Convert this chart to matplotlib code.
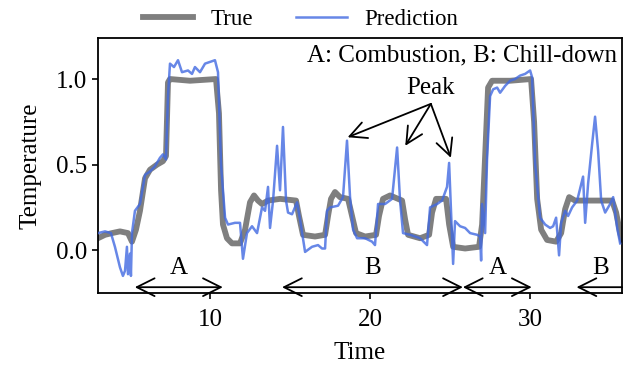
import matplotlib
matplotlib.use("Agg")
import matplotlib.pyplot as plt

plt.rcParams["font.family"] = ["Liberation Serif", "DejaVu Serif"]
plt.rcParams["font.size"] = 18

# Measured temperature (normalised)
true_t = [3.0, 3.44, 3.875, 4.375, 4.875, 5.125, 5.375, 5.625, 5.94, 6.25, 6.69, 7.06,
          7.25, 7.375, 7.5, 8.75, 10.375, 10.56, 10.69, 10.81, 11.06, 11.375, 11.875,
          12.19, 12.5, 12.75, 13.0, 13.25, 13.625, 14.375, 15.375, 15.56, 15.81, 16.56,
          17.19, 17.375, 17.56, 17.81, 18.125, 18.625, 18.875, 19.125, 19.69, 20.375,
          20.56, 20.81, 21.25, 22.0, 22.19, 22.375, 23.125, 23.69, 23.875, 24.125, 24.75,
          24.94, 25.19, 25.94, 26.81, 27.0, 27.19, 27.375, 27.625, 28.75, 30.06, 30.25,
          30.44, 30.69, 31.06, 31.625, 31.94, 32.19, 32.44, 32.81, 33.75, 35.125, 35.375,
          35.625, 35.75]
true_v = [0.07, 0.09, 0.10, 0.11, 0.10, 0.05, 0.12, 0.23, 0.42, 0.47, 0.50, 0.52,
          0.55, 0.98, 1.00, 0.99, 1.00, 0.80, 0.35, 0.15, 0.07, 0.04, 0.04,
          0.12, 0.28, 0.32, 0.29, 0.27, 0.29, 0.30, 0.29, 0.20, 0.09, 0.08,
          0.09, 0.20, 0.30, 0.34, 0.31, 0.30, 0.20, 0.10, 0.08, 0.09,
          0.20, 0.30, 0.32, 0.29, 0.18, 0.09, 0.07, 0.09, 0.22, 0.30, 0.30,
          0.15, 0.02, 0.01, 0.02, 0.15, 0.55, 0.95, 0.99, 0.99, 1.00, 0.75,
          0.30, 0.12, 0.06, 0.05, 0.10, 0.24, 0.31, 0.29, 0.29, 0.29, 0.22,
          0.10, 0.06]

# Model prediction
pred_t = [3.0, 3.44, 3.81, 4.06, 4.375, 4.56, 4.69, 4.81, 4.875, 5.0, 5.06, 5.125,
          5.31, 5.625, 5.94, 6.25, 6.56, 6.875, 7.06, 7.25, 7.375, 7.5, 7.75, 8.0,
          8.25, 8.625, 8.875, 9.06, 9.375, 9.69, 10.0, 10.31, 10.5, 10.69, 10.94,
          11.125, 11.56, 11.875, 12.06, 12.31, 12.625, 12.94, 13.25, 13.44, 13.625,
          13.75, 13.94, 14.19, 14.375, 14.56, 14.75, 14.875, 15.125, 15.44, 15.625,
          15.94, 16.375, 16.75, 17.0, 17.19, 17.31, 17.5, 18.0, 18.31, 18.56, 18.75,
          18.94, 19.19, 19.69, 20.125, 20.31, 20.5, 20.94, 21.375, 21.69, 21.875,
          22.06, 22.5, 23.125, 23.56, 23.75, 24.19, 24.5, 24.81, 24.94, 25.06, 25.19,
          25.31, 25.625, 25.94, 26.25, 26.69, 26.875, 26.94, 27.0, 27.19, 27.31, 27.5,
          27.69, 27.94, 28.125, 28.44, 28.75, 29.06, 29.375, 29.69, 30.0, 30.125,
          30.31, 30.625, 30.94, 31.25, 31.44, 31.625, 31.81, 31.94, 32.19, 32.375,
          32.625, 32.94, 33.31, 33.44, 33.625, 33.875, 34.06, 34.25, 34.44, 34.69,
          35.0, 35.19, 35.44, 35.625]
pred_v = [0.10, 0.11, 0.10, 0.02, -0.10, -0.15, -0.12, 0.02, -0.14, -0.02, -0.15, 0.10,
          0.23, 0.27, 0.44, 0.46, 0.49, 0.54, 0.56, 0.53, 0.90, 1.09, 1.07, 1.11,
          1.04, 1.05, 1.03, 1.07, 1.04, 1.09, 1.10, 1.11, 1.04, 0.50, 0.19,
          0.15, 0.16, 0.16, -0.05, 0.10, 0.14, 0.10, 0.25, 0.23, 0.37,
          0.13, 0.29, 0.61, 0.35, 0.72, 0.29, 0.22, 0.21, 0.28, 0.18,
          -0.01, 0.02, 0.03, 0.01, 0.01, 0.23, 0.25, 0.26, 0.31, 0.64, 0.31,
          0.12, 0.07, 0.07, 0.05, 0.03, 0.27, 0.27, 0.30, 0.60, 0.29,
          0.10, 0.09, 0.07, 0.03, 0.25, 0.27, 0.29, 0.37, 0.51, 0.23, -0.08,
          0.17, 0.14, 0.13, 0.10, 0.09, 0.08, -0.06, 0.27, 0.10, 0.53, 0.90,
          0.94, 0.95, 0.92, 0.96, 0.99, 1.00, 1.02, 1.03, 1.05, 1.01,
          0.51, 0.19, 0.15, 0.13, 0.14, 0.19, -0.03, 0.16, 0.23, 0.20,
          0.25, 0.29, 0.43, 0.16, 0.39, 0.62, 0.78, 0.58, 0.29, 0.22,
          0.27, 0.31, 0.13, 0.04]

# Operating phases along the time axis: (label, start, end)
phases = [("A", 5.3, 10.8), ("B", 14.5, 25.8), ("A", 25.8, 30.1), ("B", 32.9, 35.75)]

# Prediction spikes pointed out by the "Peak" note
peak_t = [18.6, 22.2, 25.05]
peak_v = [0.66, 0.61, 0.54]

fig = plt.figure(figsize=(6.24, 3.67), dpi=100)
ax = fig.add_axes([0.157, 0.2016, 0.840, 0.695])

ax.plot(true_t, true_v, color="#7f7f7f", lw=4.2, label="True", zorder=2)
ax.plot(pred_t, pred_v, color="royalblue", alpha=0.8, lw=1.8, label="Prediction", zorder=3)

ax.set_xlim(3, 35.75)
ax.set_ylim(-0.25, 1.24)
ax.set_xticks([10, 20, 30])
ax.set_yticks([0.0, 0.5, 1.0])
ax.set_xlabel("Time", labelpad=8)
ax.set_ylabel("Temperature", labelpad=10)
ax.tick_params(length=4.5, width=1.2)
ax.tick_params(axis="x", pad=7)
for s in ax.spines.values():
    s.set_linewidth(1.3)

ax.text(35.45, 1.14, "A: Combustion, B: Chill-down", ha="right", va="center")

# "Peak" label with arrows
ax.text(23.75, 0.95, "Peak", ha="center", va="center")
for px, pv in zip(peak_t, peak_v):
    ax.annotate("", xy=(px, pv), xytext=(23.8, 0.855),
                arrowprops=dict(arrowstyle="->", lw=1.3, color="black",
                                mutation_scale=30, shrinkA=0, shrinkB=0))

# Phase spans along the bottom
arrow_y = -0.216
for label, t0, t1 in phases:
    style = "<->" if t1 < 35.7 else "<-"
    ax.annotate("", xy=(t1, arrow_y), xytext=(t0, arrow_y),
                arrowprops=dict(arrowstyle=style, lw=1.3, color="black",
                                mutation_scale=32, shrinkA=0, shrinkB=0))
    cx = (t0 + t1) / 2 if t1 < 35.7 else 34.4
    ax.text(cx, -0.105, label, ha="center", va="center")

fig.legend(*ax.get_legend_handles_labels(), loc="center", bbox_to_anchor=(0.481, 0.947),
           ncol=2, frameon=False, fontsize=16.5, handlelength=2.2, handletextpad=0.75,
           columnspacing=1.9, borderpad=0.0)

fig.savefig("out.png", dpi=100)
